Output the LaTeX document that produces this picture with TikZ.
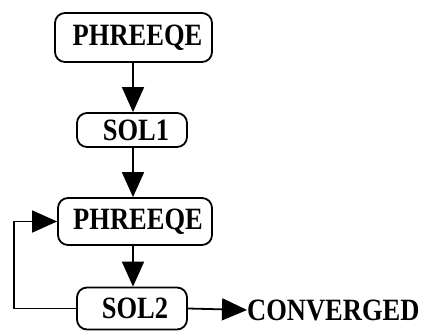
\documentclass[tikz,border=0pt]{standalone}
\usepackage{fontspec}
\setmainfont{Liberation Serif}
\usetikzlibrary{arrows.meta}
\newcommand{\tallbf}[1]{\scalebox{1}[1.17]{\bfseries\fontsize{26.5}{28}\selectfont #1}}
\tikzset{prog/.style={draw, line width=1.8pt, rounded corners=10pt, inner sep=0pt},
	flow/.style={line width=1.8pt, -{Triangle[length=25pt,width=22pt]}}}

\begin{document}
\begin{tikzpicture}[x=1pt, y=-1pt]
			\useasboundingbox (0,0) rectangle (426,334);
			% boxes
			\node [prog, minimum width=157pt, minimum height=49pt] (P1) at (133.5, 37.5) {\hspace{8pt}\tallbf{PHREEQE}};
			\node [prog, minimum width=110pt, minimum height=34pt] (S1) at (132, 130) {\hspace{8pt}\tallbf{SOL1}};
			\node [prog, minimum width=154pt, minimum height=47pt] (P2) at (135, 221.5) {\hspace{6pt}\tallbf{PHREEQE}};
			\node [prog, minimum width=110pt, minimum height=42pt] (S2) at (132, 308.5) {\hspace{6pt}\tallbf{SOL2}};
			\node [anchor=west, inner sep=0pt] (C) at (247, 310) {\tallbf{CONVERGED}};
			\coordinate (L) at (14, 0);
		
			% arrows
			\draw [flow] (P1.south -| 133,0) -- (S1.north -| 133,0);
			\draw [flow] (S1.south -| 133,0) -- (P2.north -| 133,0);
			\draw [flow] (P2.south -| 133,0) -- (S2.north -| 133,0);
			\draw [flow] (S2.west) -- (S2.west -| L) |- (P2.west);
			\draw [flow] (S2.east) -- (C.west);
		\end{tikzpicture}
\end{document}
